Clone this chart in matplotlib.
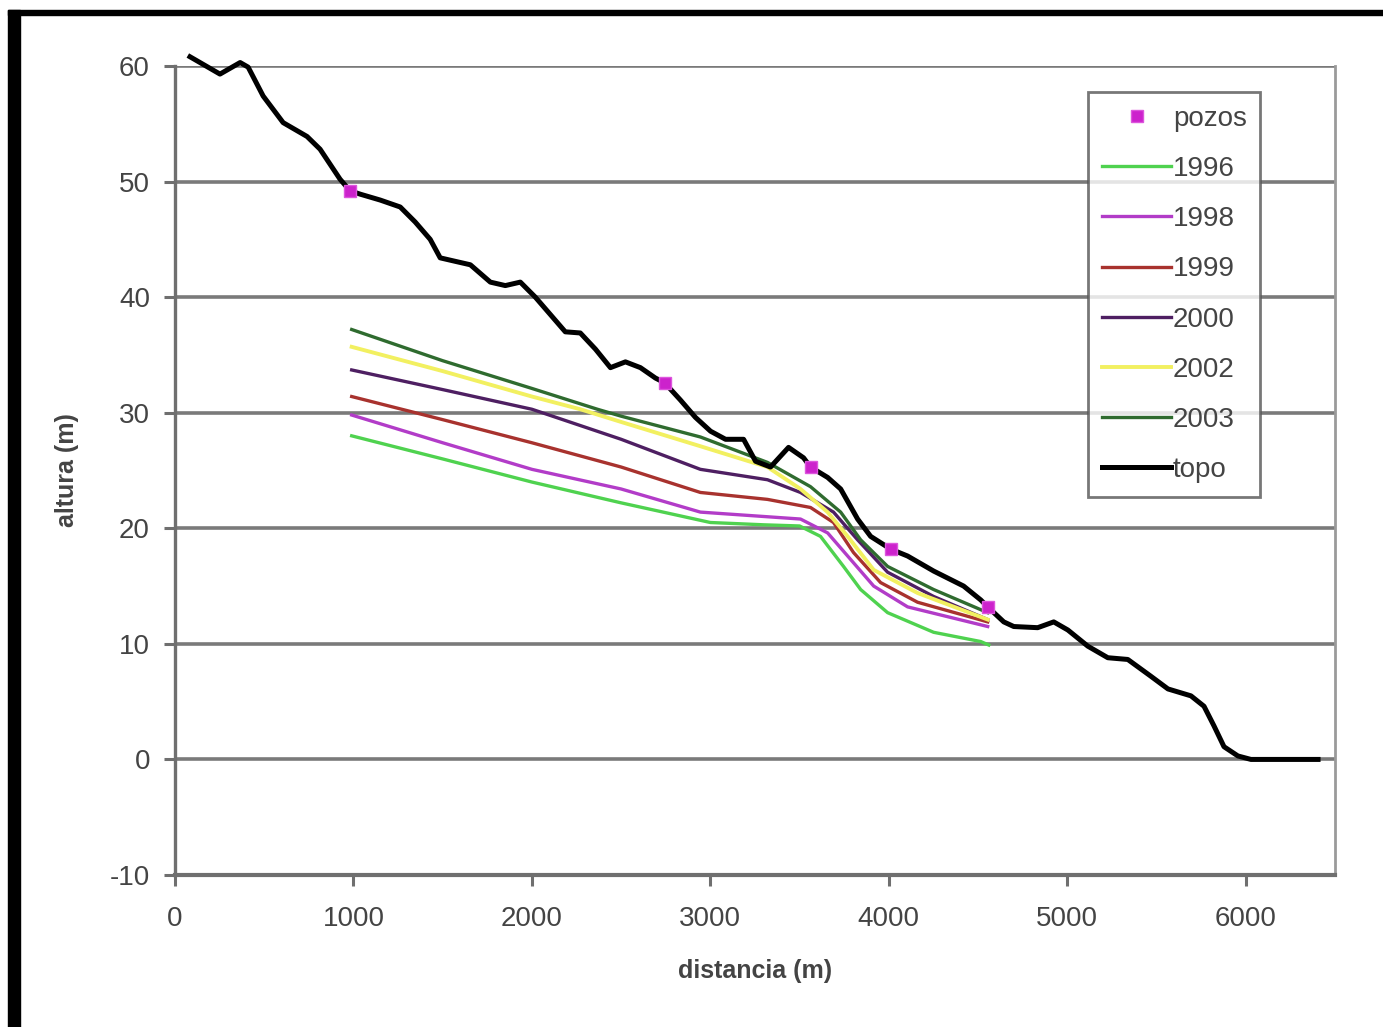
import matplotlib
matplotlib.use("Agg")
import matplotlib.pyplot as plt
from matplotlib.patches import Rectangle

plt.rcParams['font.family'] = ['Liberation Sans', 'DejaVu Sans']
plt.rcParams['axes.unicode_minus'] = False

# ---- data ----
topo_x = [84, 252, 365, 410, 494, 606, 740, 813, 925, 981, 1040, 1150, 1262, 1346, 1430, 1486,
          1570, 1655, 1767, 1851, 1935, 2019, 2103, 2187, 2271, 2356, 2440, 2524, 2608, 2692,
          2743, 2832, 2916, 3001, 3085, 3186, 3253, 3337, 3438, 3522, 3561, 3657, 3730, 3825,
          3898, 4010, 4105, 4251, 4419, 4515, 4554, 4644, 4700, 4834, 4924, 5003, 5115, 5227,
          5339, 5468, 5564, 5693, 5766, 5822, 5878, 5956, 6029, 6405]
topo_y = [60.8, 59.3, 60.3, 59.9, 57.4, 55.1, 53.9, 52.8, 50.2, 49.2, 48.9, 48.4, 47.8, 46.5, 45.0, 43.4,
          43.1, 42.8, 41.3, 41.0, 41.3, 40.0, 38.5, 37.0, 36.9, 35.5, 33.9, 34.4, 33.9, 33.0,
          32.6, 31.1, 29.6, 28.4, 27.7, 27.7, 25.8, 25.3, 27.0, 26.1, 25.3, 24.4, 23.4, 20.8,
          19.3, 18.2, 17.6, 16.3, 15.0, 13.8, 13.2, 11.9, 11.5, 11.4, 11.9, 11.2, 9.8, 8.8,
          8.65, 7.2, 6.1, 5.5, 4.6, 2.9, 1.1, 0.3, 0.0, 0.0]

pozos_x = [981, 2743, 3561, 4010, 4554]
pozos_y = [49.2, 32.6, 25.3, 18.2, 13.2]

x1996 = [990, 1500, 2000, 2500, 3000, 3300, 3500, 3617, 3746, 3842, 3993, 4251, 4515, 4560]
y1996 = [28.0, 26.0, 24.0, 22.2, 20.5, 20.3, 20.2, 19.3, 16.7, 14.7, 12.7, 11.0, 10.2, 9.9]

x1998 = [990, 1500, 2000, 2500, 2944, 3505, 3657, 3786, 3915, 4105, 4554]
y1998 = [29.8, 27.4, 25.1, 23.4, 21.4, 20.8, 19.6, 17.3, 15.0, 13.2, 11.5]

x1999 = [990, 1500, 2000, 2500, 2944, 3320, 3561, 3690, 3802, 3954, 4161, 4554]
y1999 = [31.4, 29.4, 27.4, 25.3, 23.1, 22.5, 21.8, 20.5, 17.9, 15.3, 13.6, 11.9]

x2000 = [990, 1500, 2000, 2500, 2944, 3320, 3505, 3690, 3825, 3993, 4251, 4554]
y2000 = [33.7, 32.0, 30.3, 27.7, 25.1, 24.2, 23.1, 21.4, 19.0, 16.2, 14.1, 12.1]

x2002 = [990, 1500, 2000, 2271, 2500, 2944, 3320, 3505, 3657, 3769, 3915, 4161, 4554]
y2002 = [35.7, 33.6, 31.4, 30.3, 29.2, 27.1, 25.3, 23.4, 21.4, 19.3, 16.4, 14.4, 12.1]

x2003 = [990, 1500, 2000, 2367, 2500, 2944, 3320, 3561, 3730, 3842, 3993, 4251, 4554]
y2003 = [37.2, 34.5, 32.1, 30.3, 29.7, 27.9, 25.7, 23.6, 21.4, 19.0, 16.7, 14.7, 12.7]

x_ticks = [0, 1000, 2000, 3000, 4000, 5000, 6000]
y_ticks = [-10, 0, 10, 20, 30, 40, 50, 60]

# ---- figure ----
fig = plt.figure(figsize=(13.83, 10.27), dpi=100)
ax = fig.add_axes([175/1383, 1 - 875/1027, (1335-175)/1383, (875-66)/1027])

grid_c = '#7a7a7a'
for yv in y_ticks[1:]:
    ax.axhline(yv, color=grid_c, lw=2.6, zorder=1)

ax.plot(x1996, y1996, color='#4fd24f', lw=2.4, label='1996', zorder=3)
ax.plot(x1998, y1998, color='#b23cc8', lw=2.4, label='1998', zorder=3)
ax.plot(x1999, y1999, color='#a8322e', lw=2.4, label='1999', zorder=3)
ax.plot(x2000, y2000, color='#4e1f62', lw=2.4, label='2000', zorder=3)
ax.plot(x2002, y2002, color='#f2f060', lw=2.8, label='2002', zorder=3)
ax.plot(x2003, y2003, color='#2f6b2f', lw=2.4, label='2003', zorder=3)
ax.plot(topo_x, topo_y, color='black', lw=3.6, label='topo', zorder=4, clip_on=False,
        solid_joinstyle='round')
ax.plot(pozos_x, pozos_y, 's', color='#cc22cc', ms=9, mec='#dd55dd', lw=0,
        label='pozos', zorder=5)

ax.set_xlim(0, 6500)
ax.set_ylim(-10, 60)
ax.set_xticks(x_ticks)
ax.set_yticks(y_ticks)

ax.spines['top'].set_visible(False)
ax.spines['left'].set_color('#6f6f6f')
ax.spines['left'].set_linewidth(2.4)
ax.spines['bottom'].set_color('#6f6f6f')
ax.spines['bottom'].set_linewidth(3.0)
ax.spines['right'].set_color('#9a9a9a')
ax.spines['right'].set_linewidth(2.0)

ax.tick_params(axis='both', colors='#6f6f6f', width=2.2, length=8, labelsize=20,
               labelcolor='#444444')
ax.tick_params(axis='x', pad=14)
ax.tick_params(axis='y', pad=10)

ax.set_xlabel('distancia (m)', fontsize=18, fontweight='bold', color='#444444', labelpad=20)
ax.set_ylabel('altura (m)', fontsize=18, fontweight='bold', color='#444444', labelpad=22)

handles, labels = ax.get_legend_handles_labels()
order = ['pozos', '1996', '1998', '1999', '2000', '2002', '2003', 'topo']
hmap = dict(zip(labels, handles))
leg = ax.legend([hmap[k] for k in order], order, loc='upper left',
                bbox_to_anchor=(1088/1383, 1 - 92/1027), bbox_transform=fig.transFigure,
                fontsize=20, frameon=True, fancybox=False, edgecolor='#555555',
                handlelength=2.5, handletextpad=0.05, labelspacing=0.87,
                borderpad=0.5, borderaxespad=0, labelcolor='#444444')
leg.get_frame().set_linewidth(2.0)
leg.set_zorder(10)

# black frame from the screenshot
fig.add_artist(Rectangle((8/1383, 0), 12/1383, 1 - 10/1027, transform=fig.transFigure,
                         color='black', zorder=20))
fig.add_artist(Rectangle((8/1383, 1 - 15/1027), 1 - 8/1383, 5/1027, transform=fig.transFigure,
                         color='black', zorder=20))

fig.savefig('out.png', dpi=100, facecolor='white')
